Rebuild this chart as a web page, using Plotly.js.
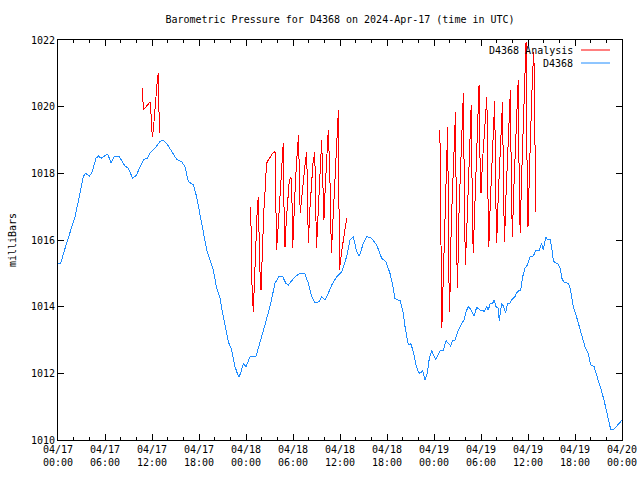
<!DOCTYPE html>
<html>
<head>
<meta charset="utf-8">
<script src="https://cdn.plot.ly/plotly-3.0.1.min.js"></script>
<style>
html,body{margin:0;padding:0;background:#fff;}
#chart{width:640px;height:480px;}
#chart .scatterlayer path.js-line{shape-rendering:crispEdges;}
</style>
</head>
<body>
<div id="chart"></div>
<script>
// ---- Data (hours after 2024-04-17 00:00 UTC) ----
const blueHours = [0.0,0.34,0.9,1.53,2.17,2.81,3.23,3.53,4.0,4.3,4.85,5.15,5.5,5.79,6.34,6.77,7.15,7.83,8.55,8.98,9.53,10.04,10.47,10.98,11.4,11.74,12.38,13.02,13.37,13.87,14.51,15.15,15.79,16.21,16.64,17.28,17.7,18.13,18.55,18.98,19.4,19.83,20.26,20.68,21.1,21.53,21.74,22.17,22.6,22.89,23.1,23.3,23.66,24.0,24.51,25.28,25.79,26.3,26.64,27.06,27.7,28.26,28.68,29.1,29.4,29.83,30.26,30.9,31.53,31.96,32.4,32.8,33.36,33.66,34.08,34.5,34.94,35.58,36.22,36.85,37.28,37.7,38.13,38.47,38.98,39.4,40.04,40.68,41.32,41.87,42.38,42.72,43.02,43.44,43.66,44.08,44.3,44.72,45.02,45.36,45.7,46.0,46.2,46.56,46.85,47.15,47.4,47.7,47.9,48.22,48.55,48.85,49.19,49.53,49.83,50.13,50.39,50.68,50.98,51.32,51.83,52.09,52.38,52.69,53.11,53.45,53.87,54.3,54.38,54.72,54.93,55.15,55.49,55.7,55.9,56.2,56.33,56.64,56.85,57.15,57.36,57.7,57.92,58.34,58.55,58.89,59.07,59.32,59.62,59.91,60.26,60.68,61.02,61.45,61.75,61.96,62.26,62.47,62.81,63.02,63.23,63.45,63.87,64.09,64.38,64.72,65.15,65.36,65.58,65.79,66.13,66.43,66.73,66.99,67.28,67.7,68.0,68.43,68.77,69.07,69.41,69.7,69.96,70.26,70.55,70.89,71.32,71.83,72.0];
const blueValues = [1015.3,1015.3,1015.75,1016.2,1016.7,1017.4,1017.9,1018.0,1017.92,1018.0,1018.45,1018.52,1018.45,1018.5,1018.58,1018.32,1018.5,1018.5,1018.22,1018.15,1017.85,1017.95,1018.2,1018.42,1018.45,1018.6,1018.75,1018.95,1019.0,1018.9,1018.65,1018.42,1018.35,1018.2,1017.75,1017.65,1017.3,1016.8,1016.3,1015.7,1015.4,1015.1,1014.55,1014.25,1013.7,1013.2,1012.95,1012.7,1012.2,1012.0,1011.9,1012.0,1012.28,1012.2,1012.5,1012.52,1012.9,1013.35,1013.65,1014.0,1014.7,1014.92,1014.9,1014.7,1014.65,1014.77,1014.9,1015.0,1014.98,1014.7,1014.3,1014.12,1014.15,1014.3,1014.2,1014.4,1014.65,1014.9,1015.05,1015.5,1016.0,1016.1,1015.65,1015.52,1015.9,1016.1,1016.05,1015.85,1015.45,1015.35,1015.0,1014.65,1014.25,1014.2,1014.2,1013.8,1013.4,1012.85,1012.9,1012.65,1012.25,1012.05,1012.0,1012.08,1011.8,1012.0,1012.45,1012.68,1012.58,1012.4,1012.58,1012.7,1012.7,1012.98,1012.9,1012.82,1013.0,1013.0,1013.22,1013.4,1013.6,1013.85,1014.0,1013.92,1013.72,1013.98,1013.9,1013.9,1013.85,1014.0,1013.9,1014.08,1014.1,1014.2,1014.0,1013.95,1013.58,1014.1,1014.02,1013.8,1014.08,1014.1,1014.2,1014.3,1014.42,1014.5,1014.5,1014.9,1015.15,1015.25,1015.5,1015.52,1015.7,1015.7,1015.9,1015.7,1016.1,1016.02,1016.02,1015.8,1015.38,1015.32,1015.28,1015.15,1014.8,1014.72,1014.7,1014.55,1014.3,1013.98,1013.75,1013.5,1013.3,1013.05,1012.8,1012.6,1012.25,1012.2,1011.95,1011.75,1011.45,1011.2,1010.9,1010.6,1010.32,1010.3,1010.4,1010.55,1010.6];

// Analysis series, null marks a gap between runs
const redHours = [
  10.77,10.90,11.79,11.95,12.04,12.17,12.43,12.60,12.68,12.81,12.94,
  null,
  24.60,24.77,24.93,25.10,25.27,25.43,25.57,25.75,25.92,26.10,26.27,26.43,26.62,26.85,27.10,27.40,27.72,
  27.90,28.08,28.25,28.42,28.58,28.75,28.85,28.98,29.15,29.32,29.50,29.70,29.83,29.96,30.12,30.30,30.48,30.70,
  30.92,31.15,31.35,31.55,31.75,31.85,31.96,32.15,32.35,32.55,32.78,32.88,33.00,33.15,33.32,33.50,33.66,
  33.80,33.95,34.12,34.30,34.50,34.70,34.90,35.10,35.30,35.50,35.65,35.80,35.92,36.10,36.30,36.50,36.70,36.85,
  null,
  48.75,48.87,49.00,49.20,49.40,49.58,
  49.75,49.87,50.00,50.20,50.40,50.58,
  50.75,50.87,51.00,51.20,51.40,51.58,
  51.75,51.87,52.00,52.20,52.40,52.58,
  52.75,52.87,53.00,53.20,53.40,53.58,
  53.75,53.87,54.00,54.20,54.40,54.58,
  54.75,54.87,55.00,55.20,55.40,55.58,
  55.75,55.87,56.00,56.20,56.40,56.58,
  56.75,56.87,57.00,57.20,57.40,57.58,
  57.75,57.87,58.00,58.20,58.40,58.58,
  58.75,58.87,59.00,59.20,59.40,59.58,
  59.75,59.87,60.00,60.20,60.40,60.58,
  60.75,60.87,61.00
];
const redValues = [
  1020.55,1019.9,1020.15,1019.08,1019.08,1019.3,1020.18,1020.5,1020.8,1021.0,1019.2,
  null,
  1017.0,1014.65,1013.85,1015.0,1016.1,1016.9,1017.3,1015.2,1014.5,1015.8,1016.85,1017.45,1018.3,1018.4,1018.5,1018.6,1018.65,
  1015.7,1016.3,1017.0,1017.8,1018.3,1018.9,1017.0,1015.8,1016.6,1017.3,1017.7,1017.9,1017.8,1015.75,1016.9,1017.7,1018.4,1019.15,
  1016.8,1017.4,1017.9,1018.3,1018.65,1017.2,1015.9,1016.9,1017.6,1018.3,1018.65,1017.3,1015.75,1016.5,1017.5,1018.4,1019.0,
  1017.8,1016.6,1017.6,1018.5,1019.3,1018.0,1015.6,1016.6,1017.6,1018.6,1019.4,1019.9,1015.1,1015.5,1015.8,1016.1,1016.4,1016.65,
  null,
  1019.3,1016.3,1013.35,1015.0,1016.6,1018.2,
  1019.4,1015.2,1013.85,1016.45,1017.6,1018.75,
  1019.85,1016.0,1014.55,1016.9,1018.0,1019.3,
  1020.4,1017.5,1015.25,1016.4,1017.6,1018.7,
  1020.05,1017.5,1015.6,1016.9,1018.2,1019.5,
  1020.65,1018.5,1017.4,1018.4,1019.2,1019.8,
  1020.3,1017.6,1015.8,1017.2,1018.4,1019.4,
  1020.18,1017.5,1015.9,1017.3,1018.5,1019.4,
  1020.15,1017.6,1015.95,1017.4,1018.6,1019.6,
  1020.5,1017.8,1016.1,1017.6,1018.8,1019.8,
  1020.8,1017.9,1016.22,1018.0,1019.6,1021.3,
  1021.95,1018.5,1016.4,1018.2,1019.8,1021.0,
  1021.65,1018.0,1016.85
];

const tickTimes = ['2024-04-17 00:00','2024-04-17 06:00','2024-04-17 12:00','2024-04-17 18:00',
                   '2024-04-18 00:00','2024-04-18 06:00','2024-04-18 12:00','2024-04-18 18:00',
                   '2024-04-19 00:00','2024-04-19 06:00','2024-04-19 12:00','2024-04-19 18:00',
                   '2024-04-20 00:00'];
const tickLabels = ['04/17<br>00:00','04/17<br>06:00','04/17<br>12:00','04/17<br>18:00',
                    '04/18<br>00:00','04/18<br>06:00','04/18<br>12:00','04/18<br>18:00',
                    '04/19<br>00:00','04/19<br>06:00','04/19<br>12:00','04/19<br>18:00',
                    '04/20<br>00:00'];
const yTicks = [1010,1012,1014,1016,1018,1020,1022];

// ---- helpers ----
const BASE = Date.UTC(2024, 3, 17, 0, 0, 0);
function toDate(h) {
  if (h === null) return null;
  const iso = new Date(BASE + h * 3600000).toISOString();
  return iso.replace('T', ' ').replace('Z', '');
}

const FONT = 'DejaVu Sans Mono, Liberation Mono, monospace';

const traces = [
  {
    x: redHours.map(toDate), y: redValues, type: 'scatter', mode: 'lines',
    name: 'D4368 Analysis', connectgaps: false,
    line: {color: '#ff0000', width: 1}, showlegend: false
  },
  {
    x: blueHours.map(toDate), y: blueValues, type: 'scatter', mode: 'lines',
    name: 'D4368',
    line: {color: '#1e8cff', width: 1}, showlegend: false
  }
];

const layout = {
  width: 640, height: 480,
  margin: {l: 58, r: 18, t: 40, b: 40, pad: 0},
  paper_bgcolor: '#ffffff', plot_bgcolor: '#ffffff',
  font: {family: FONT, size: 10, color: '#000000'},
  title: {
    text: 'Barometric Pressure for D4368 on 2024-Apr-17 (time in UTC)',
    font: {family: FONT, size: 10, color: '#000000'},
    x: 0.5, xref: 'paper', xanchor: 'center', y: 1 - 19/480, yanchor: 'middle'
  },
  xaxis: {
    type: 'date',
    range: ['2024-04-17 00:00', '2024-04-20 00:00'],
    tickmode: 'array', tickvals: tickTimes, ticktext: tickLabels,
    ticks: 'inside', ticklen: 6, tickwidth: 1, tickcolor: '#000',
    showline: true, linecolor: '#000', linewidth: 1, mirror: 'ticks',
    showgrid: false, zeroline: false,
    tickfont: {family: FONT, size: 10, color: '#000'},
    minor: {tickmode: 'linear', tick0: '2024-04-17 00:00', dtick: 7200000,
            ticks: 'inside', ticklen: 3, tickwidth: 1, tickcolor: '#000', showgrid: false},
    fixedrange: true
  },
  yaxis: {
    range: [1010, 1022],
    tickmode: 'array', tickvals: yTicks, ticktext: yTicks.map(String),
    ticks: 'inside', ticklen: 6, tickwidth: 1, tickcolor: '#000',
    showline: true, linecolor: '#000', linewidth: 1, mirror: 'ticks',
    showgrid: false, zeroline: false,
    tickfont: {family: FONT, size: 10, color: '#000'},
    title: {text: 'milliBars', font: {family: FONT, size: 10, color: '#000'}, standoff: 12},
    fixedrange: true
  },
  showlegend: false,
  annotations: [
    {xref: 'paper', yref: 'paper', x: (575-58)/564, y: (440-50)/400, xanchor: 'right', yanchor: 'middle',
     text: 'D4368 Analysis', showarrow: false, font: {family: FONT, size: 10, color: '#000'}},
    {xref: 'paper', yref: 'paper', x: (575-58)/564, y: (440-63)/400, xanchor: 'right', yanchor: 'middle',
     text: 'D4368', showarrow: false, font: {family: FONT, size: 10, color: '#000'}}
  ],
  shapes: [
    {type: 'line', xref: 'paper', yref: 'paper', x0: (581-58)/564, x1: (610-58)/564,
     y0: (440-50)/400, y1: (440-50)/400, line: {color: '#ff0000', width: 1}},
    {type: 'line', xref: 'paper', yref: 'paper', x0: (581-58)/564, x1: (610-58)/564,
     y0: (440-63)/400, y1: (440-63)/400, line: {color: '#1e8cff', width: 1}}
  ]
};

Plotly.newPlot('chart', traces, layout, {displayModeBar: false, staticPlot: true});
</script>
</body>
</html>
